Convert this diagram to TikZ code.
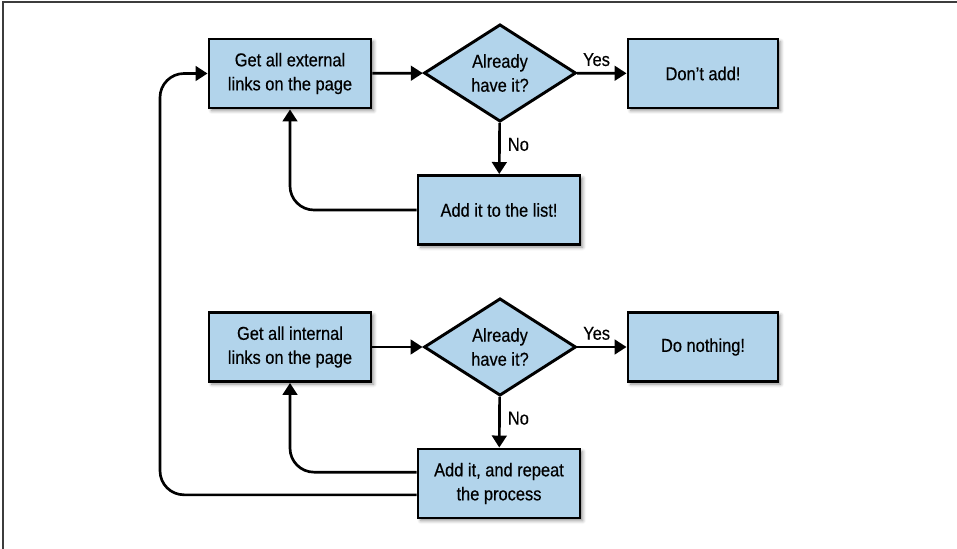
\documentclass[tikz,border=0pt]{standalone}
\usepackage{fontspec}
\setmainfont{Liberation Sans}[FakeStretch=0.88, FakeBold=0.4]
\usepackage{tikz}
\usetikzlibrary{shapes.geometric}
\usetikzlibrary{arrows.meta,shadows.blur}

\definecolor{boxblue}{RGB}{178,212,235}
\definecolor{framegray}{RGB}{60,60,60}

\tikzset{
	stepbox/.style={draw=black, line width=2.2pt, fill=boxblue, minimum width=121.5pt, minimum height=51.75pt,
		align=center, inner sep=2pt, blur shadow={shadow xshift=2pt, shadow yshift=-2pt, shadow blur radius=2.5pt, shadow opacity=45}},
	endbox/.style={stepbox, minimum width=112.5pt},
	askbox/.style={draw=black, line width=2.2pt, fill=boxblue, diamond, shape aspect=1.55, minimum width=114pt,
		minimum height=73pt, inner sep=0pt, align=center},
	flow/.style={line width=2pt, -{Triangle[length=9pt, width=11pt]}},
	txt/.style={font=\fontsize{14}{18}\selectfont}
}

\begin{document}
\begin{tikzpicture}[x=0.75pt, y=-0.75pt]
		\useasboundingbox (0,0) rectangle (957,549);
		\draw[framegray, line width=1.2pt] (3,549) -- (3,2) -- (957,2);

		% top row
		\node[stepbox, txt] (extlinks) at (290,73.5) {Get all external\\links on the page};
		\node[askbox, txt] (askext) at (500,73) {Already\\have it?};
		\node[endbox, txt] (dontadd) at (703,73.5) {Don’t add!};
		\node[stepbox, txt] (addlist) at (499,210) {Add it to the list!};

		% bottom row
		\node[stepbox, txt] (intlinks) at (290,347) {Get all internal\\links on the page};
		\node[askbox, txt] (askint) at (500,347) {Already\\have it?};
		\node[endbox, txt] (donothing) at (703,347) {Do nothing!};
		\node[stepbox, txt] (addrepeat) at (499,483.5) {Add it, and repeat\\the process};

		\coordinate (loopx) at (160,0);
		\coordinate (repback) at ([yshift=8.5pt]addrepeat.west);
		\coordinate (repout) at ([yshift=-8.5pt]addrepeat.west);

		\draw[flow] (extlinks) -- (askext);
		\draw[flow] (askext) -- node[txt, above, xshift=-4pt, yshift=1pt] {Yes} (dontadd);
		\draw[flow] (askext) -- node[txt, right, xshift=2pt, yshift=3pt] {No} (addlist);
		\draw[flow, rounded corners=18pt] (addlist.west) -| (extlinks.south);

		\draw[flow] (intlinks) -- (askint);
		\draw[flow] (askint) -- node[txt, above, xshift=-4pt, yshift=1pt] {Yes} (donothing);
		\draw[flow] (askint) -- node[txt, right, xshift=2pt, yshift=3pt] {No} (addrepeat);
		\draw[flow, rounded corners=18pt] (repback) -| (intlinks.south);
		\draw[flow, rounded corners=18pt] (repout) -- (loopx |- repout) -- (loopx |- extlinks.west) -- (extlinks.west);
	\end{tikzpicture}
\end{document}
